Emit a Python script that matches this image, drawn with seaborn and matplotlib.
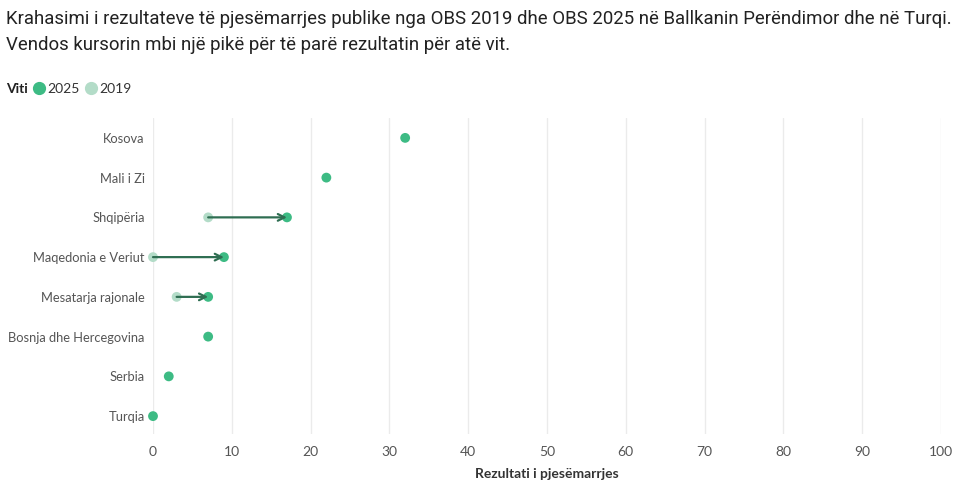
import seaborn as sns
import pandas as pd
import matplotlib.pyplot as plt
from matplotlib.lines import Line2D

# ------------ Data ------------
countries = ["Kosova", "Mali i Zi", "Shqipëria", "Maqedonia e Veriut",
             "Mesatarja rajonale", "Bosnja dhe Hercegovina", "Serbia", "Turqia"]
score_2025 = [32, 22, 17, 9, 7, 7, 2, 0]
score_2019 = [None, None, 7, 0, 3, None, None, None]

COL_2025 = "#3dbb84"
COL_2019 = "#b3dcc8"
COL_ARROW = "#2f6e52"

sns.set_theme(style="white")
plt.rcParams["font.family"] = ["Lato", "DejaVu Sans"]

df = pd.DataFrame({"country": countries, "2025": score_2025, "2019": score_2019})
long_df = df.melt(id_vars="country", var_name="Viti", value_name="score").dropna()

fig = plt.figure(figsize=(9.75, 4.93), dpi=100)
ax = fig.add_axes([153 / 975, 1 - 434 / 493, (941 - 153) / 975, (434 - 118) / 493])

# arrows from 2019 to 2025
for i, row in df.iterrows():
    if pd.notna(row["2019"]):
        ax.annotate("", xy=(row["2025"], i), xytext=(row["2019"], i),
                    arrowprops=dict(arrowstyle="->", color=COL_ARROW, lw=1.6,
                                    shrinkA=0, shrinkB=0, mutation_scale=12),
                    zorder=4)

sns.scatterplot(data=long_df, x="score", y="country", hue="Viti",
                palette={"2025": COL_2025, "2019": COL_2019},
                hue_order=["2019", "2025"], s=50, edgecolor="none",
                legend=False, ax=ax, zorder=3, clip_on=False)

ax.set_xlim(0, 100)
ax.set_ylim(len(countries) - 0.55, -0.5)
ax.set_xticks(range(0, 101, 10))
ax.grid(axis="x", color="#ebebeb", lw=1)
ax.set_axisbelow(True)
for s in ax.spines.values():
    s.set_visible(False)

ax.tick_params(axis="y", length=4, width=0.8, color="#e6e6e6", pad=2, labelsize=9.3, labelcolor="#555555")
ax.tick_params(axis="x", length=0, pad=9, labelsize=10, labelcolor="#555555")
ax.set_ylabel("")
ax.set_xlabel("Rezultati i pjesëmarrjes", fontsize=10, fontweight="bold", color="#333333", labelpad=7)

# title
title_font = ["Roboto", "DejaVu Sans"]
fig.text(6 / 975, 1 - 19 / 493, "Krahasimi i rezultateve të pjesëmarrjes publike nga OBS 2019 dhe OBS 2025 në Ballkanin Perëndimor dhe në Turqi.",
         fontsize=13.4, color="#222222", va="center", family=title_font)
fig.text(6 / 975, 1 - 45 / 493, "Vendos kursorin mbi një pikë për të parë rezultatin për atë vit.",
         fontsize=13.4, color="#222222", va="center", family=title_font)

# legend
fig.text(6 / 975, 1 - 89 / 493, "Viti", fontsize=10, fontweight="bold", color="#222222", va="center")
handles = [Line2D([], [], marker="o", ls="", color=COL_2025, markersize=8.5, label="2025"),
           Line2D([], [], marker="o", ls="", color=COL_2019, markersize=8.5, label="2019")]
fig.legend(handles=handles, loc="center left", bbox_to_anchor=(25 / 975, 1 - 89 / 493),
           ncol=2, frameon=False, fontsize=10, handletextpad=0.1, columnspacing=0.35,
           handlelength=1.0, borderpad=0, labelcolor="#333333")

fig.savefig("out.png", dpi=100)
